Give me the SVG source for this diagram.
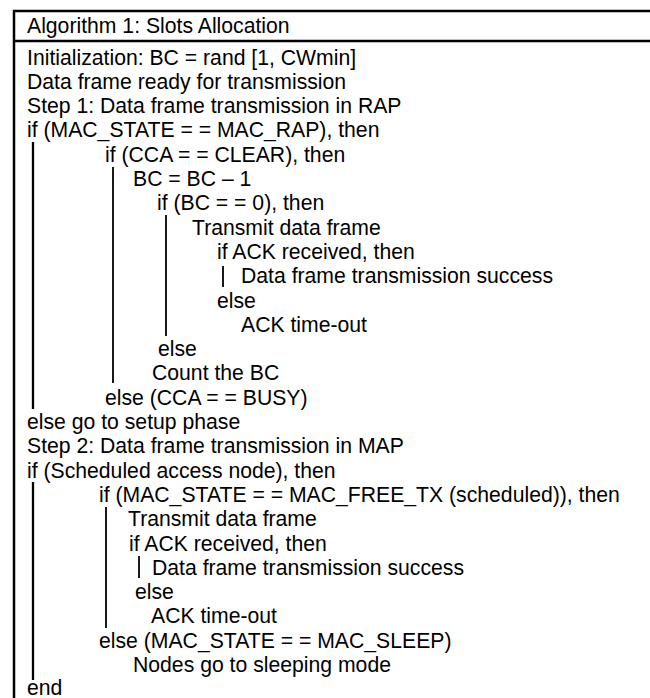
<svg xmlns="http://www.w3.org/2000/svg" width="650" height="698" viewBox="0 0 650 698">
<style>
text{font-family:"Liberation Sans",Arial,sans-serif;font-size:21.2px;fill:#000}
.frame{stroke:#000;stroke-width:2.5;fill:none}
.bar{stroke:#000;stroke-width:1.8}
.bar2{stroke:#000;stroke-width:2.3}
</style>
<rect x="0" y="0" width="650" height="698" fill="#fff"/>
<g id="frame">
<line class="frame" x1="13" y1="11" x2="652" y2="11"/>
<line class="frame" x1="13" y1="41" x2="652" y2="41"/>
<line class="frame" x1="14" y1="10" x2="14" y2="700"/>
</g>
<g id="header"><text x="27" y="33">Algorithm 1: Slots Allocation</text></g>
<g id="lines">
<text x="27" y="64.5">Initialization: BC = rand [1, CWmin]</text>
<text x="27" y="88.8">Data frame ready for transmission</text>
<text x="27" y="113.1">Step 1: Data frame transmission in RAP</text>
<text x="27" y="137.4">if (MAC_STATE = = MAC_RAP), then</text>
<text x="105" y="161.7">if (CCA = = CLEAR), then</text>
<text x="133" y="186">BC = BC – 1</text>
<text x="157" y="210.3">if (BC = = 0), then</text>
<text x="192" y="234.6">Transmit data frame</text>
<text x="217" y="258.9">if ACK received, then</text>
<text x="241" y="283.2">Data frame transmission success</text>
<text x="217" y="307.5">else</text>
<text x="241" y="331.8">ACK time-out</text>
<text x="158" y="356.1">else</text>
<text x="152" y="380.4">Count the BC</text>
<text x="105" y="404.7">else (CCA = = BUSY)</text>
<text x="27" y="429">else go to setup phase</text>
<text x="27" y="453.3">Step 2: Data frame transmission in MAP</text>
<text x="27" y="477.6">if (Scheduled access node), then</text>
<text x="99" y="501.9">if (MAC_STATE = = MAC_FREE_TX (scheduled)), then</text>
<text x="128" y="526.2">Transmit data frame</text>
<text x="129" y="550.5">if ACK received, then</text>
<text x="152" y="574.8">Data frame transmission success</text>
<text x="135" y="599.1">else</text>
<text x="151" y="623.4">ACK time-out</text>
<text x="99" y="647.7">else (MAC_STATE = = MAC_SLEEP)</text>
<text x="133" y="672">Nodes go to sleeping mode</text>
<text x="27" y="694.5">end</text>
</g>
<g id="connectors">
<line class="bar2" x1="33" y1="142" x2="33" y2="409"/>
<line class="bar" x1="113" y1="167" x2="113" y2="383"/>
<line class="bar" x1="166" y1="215" x2="166" y2="336"/>
<line class="bar" x1="223" y1="266" x2="223" y2="287"/>
<line class="bar2" x1="33" y1="482" x2="33" y2="680"/>
<line class="bar" x1="106" y1="507" x2="106" y2="628"/>
<line class="bar" x1="139" y1="556" x2="139" y2="578"/>
</g>
</svg>
